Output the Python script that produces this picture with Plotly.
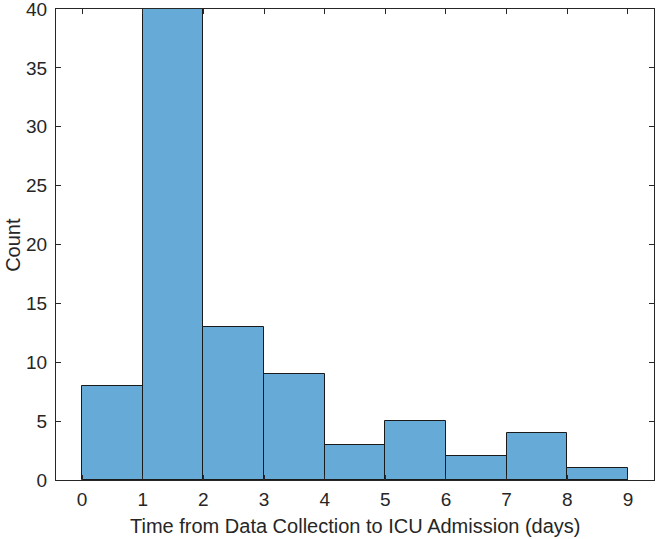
import plotly.graph_objects as go

BAR_FILL = "rgb(102,170,215)"
EDGE = "#1a1a1a"
AXIS = "#262626"
FONT = "Liberation Sans, Arial, sans-serif"

bin_left = [0, 1, 2, 3, 4, 5, 6, 7, 8]
counts = [8, 40, 13, 9, 3, 5, 2, 4, 1]
x_ticks = [0, 1, 2, 3, 4, 5, 6, 7, 8, 9]
y_ticks = [0, 5, 10, 15, 20, 25, 30, 35, 40]
x_title = "Time from Data Collection to ICU Admission (days)"
y_title = "Count"

centers = [b + 0.5 for b in bin_left]

fig = go.Figure()
fig.add_trace(go.Bar(
    x=centers, y=counts, width=1,
    marker=dict(color=BAR_FILL, line=dict(color=EDGE, width=1)),
    showlegend=False,
))

axis_style = dict(
    showline=True, linecolor=AXIS, linewidth=1, mirror="ticks",
    ticks="inside", ticklen=5, tickcolor=AXIS, tickwidth=1,
    showgrid=False, zeroline=False, automargin=False,
    ticklabeloverflow="allow",
    tickfont=dict(family=FONT, size=19, color=AXIS),
)

fig.update_layout(
    width=656, height=539,
    margin=dict(l=56, r=2, t=9, b=59),
    plot_bgcolor="white", paper_bgcolor="white",
    bargap=0,
    xaxis=dict(range=[-0.43, 9.43], tickvals=x_ticks, ticklabelstandoff=2, **axis_style),
    yaxis=dict(range=[0, 40], tickvals=y_ticks, ticklabelstandoff=4, **axis_style),
    annotations=[
        # axis titles placed by hand to sit where the MATLAB export has them
        dict(text=x_title, xref="paper", yref="paper", x=0.5, y=-0.097,
             xanchor="center", yanchor="middle", showarrow=False,
             font=dict(family=FONT, size=20, color=AXIS)),
        dict(text=y_title, xref="paper", yref="paper", x=-0.073, y=0.5,
             xanchor="center", yanchor="middle", textangle=-90, showarrow=False,
             font=dict(family=FONT, size=20, color=AXIS)),
    ],
)

# the page's default body margin would push the figure off by 8px
fig.write_html("out.html", config={"displayModeBar": False},
               post_script="document.body.style.margin='0';")
